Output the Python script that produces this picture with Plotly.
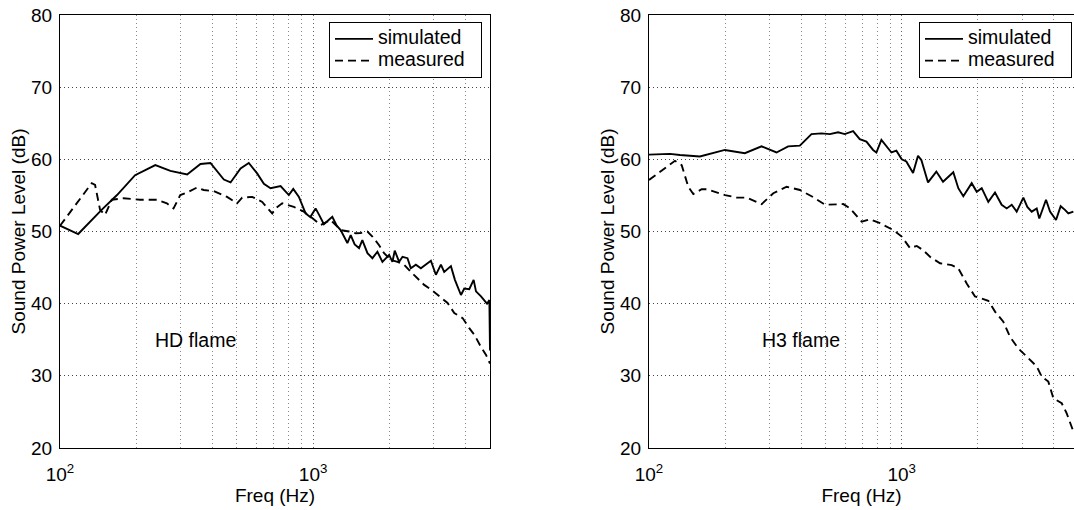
import numpy as np
import plotly.graph_objects as go

# ---------------- data (Hz, dB) ----------------
hd_sim_f = [100, 118, 146, 168, 198, 238, 273, 318, 359, 393, 444, 472, 517, 557, 601,
            639, 679, 744, 802, 835, 879, 934, 975, 1023, 1060, 1103, 1191, 1240, 1285, 1366, 1408,
            1460, 1519, 1565, 1640, 1715, 1795, 1879, 1997, 2058, 2102, 2188, 2256,
            2360, 2433, 2547, 2665, 2790, 2920, 3056, 3199, 3296, 3504, 3634, 3780,
            3839, 3957, 4141, 4308, 4402, 4607, 4749, 4866, 4972, 5000]
hd_sim_v = [50.8, 49.65, 53.0, 55.05, 57.8, 59.2, 58.4, 57.9, 59.35, 59.5, 57.2, 56.8, 58.75, 59.5, 58.05,
            56.6, 56.0, 56.3, 55.05, 55.9, 54.8, 52.5, 52.0, 53.2, 52.2, 51.0, 52.05, 50.8, 50.2, 48.4, 49.5,
            48.2, 47.7, 48.8, 47.0, 46.3, 47.2, 45.8, 46.75, 45.8, 47.35, 45.8, 46.5,
            46.3, 44.9, 45.4, 44.9, 45.4, 45.95, 44.0, 45.4, 44.4, 45.2, 43.3, 41.9,
            41.2, 42.1, 42.0, 43.3, 41.7, 41.0, 40.5, 40.0, 40.5, 33.5]

hd_mea_f = [100, 133.5, 137.6, 144, 150.7, 160.2, 178.2, 207.4, 241.5, 264.5, 281, 298.7,
            322.2, 347.8, 369.6, 404.9, 457.2, 500.9, 524.4, 574.3, 629.4, 689.4, 710.6,
            755.1, 839.5, 919.6, 978, 1071, 1173, 1285, 1387, 1474, 1542, 1639, 1715,
            1823, 1908, 2028, 2155, 2290, 2433, 2586, 2748, 2965, 3199, 3399, 3612,
            3898, 4141, 4335, 4607, 4823, 5000]
hd_mea_v = [50.8, 56.7, 56.45, 53.0, 52.3, 54.4, 54.6, 54.4, 54.4, 53.9, 53.2, 55.05,
            55.5, 56.1, 55.75, 55.6, 54.8, 53.9, 54.7, 54.8, 54.1, 52.5, 53.2,
            53.9, 53.4, 52.75, 52.05, 50.9, 51.6, 50.2, 50.0, 49.75, 49.8, 50.0, 49.3,
            48.1, 47.0, 46.05, 45.8, 45.4, 44.4, 43.5, 42.6, 41.8, 40.9, 40.1, 38.7,
            38.0, 36.6, 35.7, 34.0, 32.9, 31.7]

h3_sim_f = [100, 121, 132.6, 159, 199.7, 239.5, 278.8, 319.6, 355.3, 395.3, 439.5, 481.4,
            519.4, 560.3, 595.3, 642.2, 682.3, 725, 770.3, 794.1, 831, 869.8, 910.6,
            952.6, 1000, 1043, 1109, 1160, 1196, 1271, 1371, 1457, 1600, 1675, 1753,
            1892, 1981, 2073, 2201, 2340, 2486, 2603, 2725, 2851, 2939, 3029, 3141,
            3269, 3422, 3503, 3724, 3863, 4080, 4256, 4426, 4564, 4777]
h3_sim_v = [60.65, 60.75, 60.6, 60.4, 61.3, 60.85, 61.8, 60.95, 61.8, 61.9, 63.5, 63.6,
            63.5, 63.75, 63.5, 63.9, 62.8, 62.45, 61.3, 60.95, 62.7, 61.8, 60.95,
            61.2, 60.0, 59.7, 58.1, 60.5, 59.9, 56.8, 58.3, 56.9, 58.2, 56.0, 54.9,
            56.7, 55.5, 56.0, 54.1, 55.4, 53.7, 53.2, 53.7, 52.75, 53.7, 54.7, 53.4,
            52.75, 53.2, 51.8, 54.4, 52.75, 51.6, 53.5, 53.0, 52.5, 52.75]

h3_mea_f = [100, 126.7, 134.7, 143, 149.7, 161.6, 169.2, 200, 222.3, 243.6, 279.2, 310.4,
            350.6, 395.8, 446.9, 497.3, 587.5, 624.4, 694.6, 749.2, 820.6, 926.4, 1000,
            1079, 1147, 1218, 1294, 1418, 1577, 1675, 1808, 1950, 2201, 2340, 2524,
            2683, 2893, 3123, 3422, 3581, 3803, 3981, 4297, 4497, 4777]
h3_mea_v = [57.15, 59.8, 59.2, 56.2, 55.2, 55.85, 55.85, 55.05, 54.7, 54.7, 53.8, 55.3,
            56.2, 55.75, 54.75, 53.7, 53.8, 53.2, 51.35, 51.7, 51.15, 50.2, 49.3,
            47.7, 48.0, 47.4, 46.5, 45.6, 45.35, 44.9, 42.8, 41.0, 40.4, 38.9, 37.5,
            35.4, 33.8, 32.65, 31.3, 29.9, 29.2, 26.9, 26.2, 24.8, 22.3]

x_tickvals = [100, 1000]
x_ticktext = ["10<sup>2</sup>", "10<sup>3</sup>"]
x_minor = [200, 300, 400, 500, 600, 700, 800, 900, 2000, 3000, 4000]
series_names = ["simulated", "measured"]
panel_labels = ["HD flame", "H3 flame"]
x_title = "Freq (Hz)"
y_title = "Sound Power Level (dB)"

# ---------------- figure ----------------
W, H = 1074, 510
FONT = "Arial, 'Liberation Sans', Helvetica, sans-serif"
FS = 19
LEG_FS = 19.5

fig = go.Figure()

def leg_name(s):
    return f"<span style='font-size:{LEG_FS}px'>{s}&nbsp;&nbsp;</span>"

def add_pair(fs, vs, fm, vm, xa, ya, leg):
    fig.add_trace(go.Scatter(x=fs, y=vs, mode="lines", name=leg_name(series_names[0]),
                             line=dict(color="black", width=1.9),
                             xaxis=xa, yaxis=ya, legend=leg))
    fig.add_trace(go.Scatter(x=fm, y=vm, mode="lines", name=leg_name(series_names[1]),
                             line=dict(color="black", width=1.9, dash="8px,5px"),
                             xaxis=xa, yaxis=ya, legend=leg))

add_pair(hd_sim_f, hd_sim_v, hd_mea_f, hd_mea_v, "x", "y", "legend")
add_pair(h3_sim_f, h3_sim_v, h3_mea_f, h3_mea_v, "x2", "y2", "legend2")

ydom = [1 - 448 / H, 1 - 15 / H]

def xax(dom, rng, mirror):
    return dict(type="log", domain=dom, range=rng,
                tickmode="array", tickvals=x_tickvals, ticktext=x_ticktext,
                showgrid=True, gridcolor="#666", griddash="1px,3px", gridwidth=1,
                minor=dict(tickmode="array", tickvals=x_minor, showgrid=True,
                           gridcolor="#888", griddash="1px,3px", gridwidth=1, ticks=""),
                showline=True, linecolor="black", linewidth=1, mirror=mirror,
                ticks="", ticklabelstandoff=9, tickfont=dict(size=FS, color="black"),
                title=dict(text=x_title, font=dict(size=FS, color="black"), standoff=4),
                automargin=False, zeroline=False)

def yax(anchor, mirror):
    return dict(domain=ydom, range=[20, 80], dtick=10, tick0=0, anchor=anchor,
                showgrid=True, gridcolor="#444", griddash="1px,3px", gridwidth=1,
                showline=True, linecolor="black", linewidth=1, mirror=mirror,
                ticks="", ticklabelstandoff=3, tickfont=dict(size=FS, color="black"),
                title=dict(text=y_title, font=dict(size=FS, color="black"), standoff=0),
                automargin=False, zeroline=False)

legend_style = dict(yanchor="top", y=1 - 22 / H, xanchor="right",
                    bordercolor="black", borderwidth=1, bgcolor="white",
                    font=dict(size=14.4, color="black"), traceorder="normal",
                    itemwidth=38)

fig.update_layout(
    width=W, height=H,
    margin=dict(l=0, r=0, t=0, b=0),
    paper_bgcolor="white", plot_bgcolor="white",
    font=dict(family=FONT, size=FS, color="black"),
    xaxis=xax([60 / W, 490 / W], [2, np.log10(5000)], True) | dict(anchor="y"),
    yaxis=yax("x", True),
    xaxis2=xax([649 / W, 1.0], [2, np.log10(4806)], True) | dict(anchor="y2"),
    yaxis2=yax("x2", False),
    legend=legend_style | dict(x=482 / W),
    legend2=legend_style | dict(x=1072 / W),
    showlegend=True,
    annotations=[
        dict(text=panel_labels[0], x=np.log10(233), y=35, xref="x", yref="y",
             xanchor="left", yanchor="middle", showarrow=False,
             font=dict(size=FS + 0.5, color="black")),
        dict(text=panel_labels[1], x=np.log10(275), y=35, xref="x2", yref="y2",
             xanchor="left", yanchor="middle", showarrow=False,
             font=dict(size=FS + 0.5, color="black")),
    ],
)

fig.write_html("out.html", config={"displayModeBar": False},
               post_script="document.body.style.margin='0';")
